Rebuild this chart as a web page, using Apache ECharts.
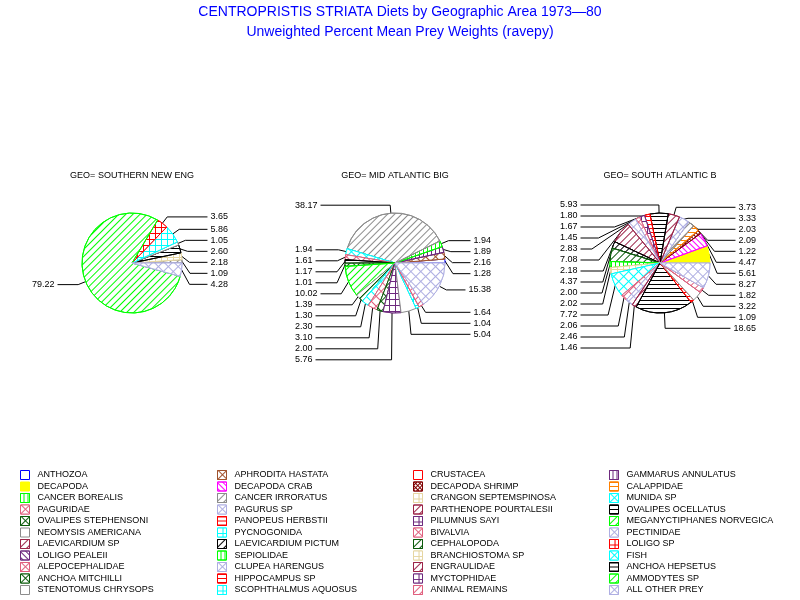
<!DOCTYPE html>
<html><head><meta charset="utf-8">
<script src="https://cdn.jsdelivr.net/npm/echarts@6/dist/echarts.min.js"></script>
<style>html,body{margin:0;padding:0;background:#fff}#c{width:800px;height:600px}</style>
</head><body><div id="c"></div>
<script>
// ---- data ----
const categories = [
 'ANTHOZOA','APHRODITA HASTATA','CRUSTACEA','GAMMARUS ANNULATUS',
 'DECAPODA','DECAPODA CRAB','DECAPODA SHRIMP','CALAPPIDAE',
 'CANCER BOREALIS','CANCER IRRORATUS','CRANGON SEPTEMSPINOSA','MUNIDA SP',
 'PAGURIDAE','PAGURUS SP','PARTHENOPE POURTALESII','OVALIPES OCELLATUS',
 'OVALIPES STEPHENSONI','PANOPEUS HERBSTII','PILUMNUS SAYI','MEGANYCTIPHANES NORVEGICA',
 'NEOMYSIS AMERICANA','PYCNOGONIDA','BIVALVIA','PECTINIDAE',
 'LAEVICARDIUM SP','LAEVICARDIUM PICTUM','CEPHALOPODA','LOLIGO SP',
 'LOLIGO PEALEII','SEPIOLIDAE','BRANCHIOSTOMA SP','FISH',
 'ALEPOCEPHALIDAE','CLUPEA HARENGUS','ENGRAULIDAE','ANCHOA HEPSETUS',
 'ANCHOA MITCHILLI','HIPPOCAMPUS SP','MYCTOPHIDAE','AMMODYTES SP',
 'STENOTOMUS CHRYSOPS','SCOPHTHALMUS AQUOSUS','ANIMAL REMAINS','ALL OTHER PREY'
];
const pieTitles = ['GEO= SOUTHERN NEW ENG','GEO= MID ATLANTIC BIG','GEO= SOUTH ATLANTIC B'];

const sneNames = ['CANCER IRRORATUS','CRANGON SEPTEMSPINOSA','OVALIPES OCELLATUS','NEOMYSIS AMERICANA',
 'PYCNOGONIDA','LOLIGO SP','AMMODYTES SP','ALL OTHER PREY'];
const sneValues = [1.09, 2.18, 2.60, 1.05, 5.86, 3.65, 79.22, 4.28];

const mabNames = ['ANTHOZOA','APHRODITA HASTATA','GAMMARUS ANNULATUS','CANCER BOREALIS','CANCER IRRORATUS',
 'MUNIDA SP','PAGURIDAE','OVALIPES OCELLATUS','OVALIPES STEPHENSONI','MEGANYCTIPHANES NORVEGICA',
 'NEOMYSIS AMERICANA','CEPHALOPODA','FISH','ALEPOCEPHALIDAE','ANCHOA MITCHILLI','MYCTOPHIDAE',
 'STENOTOMUS CHRYSOPS','SCOPHTHALMUS AQUOSUS','ANIMAL REMAINS','ALL OTHER PREY'];
const mabValues = [1.28, 2.16, 1.89, 1.94, 38.17, 1.94, 1.61, 1.17, 1.01, 10.02,
 1.39, 1.30, 2.30, 3.10, 2.00, 5.76, 5.04, 1.04, 1.64, 15.38];

const sabNames = ['DECAPODA','DECAPODA CRAB','DECAPODA SHRIMP','CALAPPIDAE','CANCER IRRORATUS',
 'PAGURUS SP','PARTHENOPE POURTALESII','OVALIPES OCELLATUS','PANOPEUS HERBSTII','PILUMNUS SAYI',
 'BIVALVIA','PECTINIDAE','LAEVICARDIUM SP','LAEVICARDIUM PICTUM','CEPHALOPODA','SEPIOLIDAE',
 'BRANCHIOSTOMA SP','FISH','ALEPOCEPHALIDAE','CLUPEA HARENGUS','ENGRAULIDAE','ANCHOA HEPSETUS',
 'HIPPOCAMPUS SP','STENOTOMUS CHRYSOPS','ANIMAL REMAINS','ALL OTHER PREY'];
const sabValues = [5.61, 4.47, 1.22, 2.09, 2.03, 3.33, 3.73, 5.93, 1.80, 1.67,
 1.45, 2.83, 7.08, 2.18, 4.37, 2.00, 2.02, 7.72, 2.06, 2.46, 1.46, 18.65,
 1.09, 3.22, 1.82, 8.27];

// ---- styles ----
const C = {blue:'#0000ff', brown:'#a0522d', red:'#ff0000', purple:'#6e2a7e', yellow:'#ffff00',
 magenta:'#ff00ff', maroon:'#800000', orange:'#ff8000', green:'#00ff00', gray:'#8c8c8c',
 tan:'#e6d6a2', cyan:'#00ffff', pink:'#e0607e', lav:'#aeaee2', crimson:'#9c2448',
 black:'#000000', dkgreen:'#0a5a0a'};
const catStyle = [
 ['blue','empty'],['brown','xgrid'],['red','empty'],['purple','vline'],
 ['yellow','solid'],['magenta','diag2'],['maroon','xdense'],['orange','hline'],
 ['green','vline'],['gray','diag'],['tan','grid'],['cyan','xgrid'],
 ['pink','xgrid'],['lav','xgrid'],['crimson','diag'],['black','hline'],
 ['dkgreen','xgrid'],['red','hline'],['purple','grid'],['green','diag'],
 ['gray','empty'],['cyan','grid'],['pink','xgrid'],['lav','xgrid'],
 ['crimson','diag'],['black','diag'],['dkgreen','diag'],['red','grid'],
 ['purple','diag2'],['green','vline'],['tan','grid'],['cyan','xgrid'],
 ['pink','xgrid'],['lav','xgrid'],['crimson','diag'],['black','hline'],
 ['dkgreen','xgrid'],['red','hline'],['purple','grid'],['green','diag'],
 ['gray','empty'],['cyan','grid'],['pink','diag'],['lav','xgrid']
];
function decalFor(kind, col) {
  switch (kind) {
    case 'diag': return {symbol:'rect', symbolSize:1, color:col, dashArrayX:[1,0], dashArrayY:[1,4], rotation:-Math.PI/4};
    case 'diag2': return {symbol:'rect', symbolSize:1, color:col, dashArrayX:[1,0], dashArrayY:[1,3], rotation:Math.PI/4};
    case 'hline': return {symbol:'rect', symbolSize:1, color:col, dashArrayX:[1,0], dashArrayY:[1,3], rotation:0};
    case 'vline': return {symbol:'rect', symbolSize:1, color:col, dashArrayX:[1,0], dashArrayY:[1,3], rotation:Math.PI/2};
    case 'grid': return {symbol:'rect', symbolSize:1, color:'#ffffff', backgroundColor:col, dashArrayX:[5,1], dashArrayY:[5,1], rotation:0};
    case 'xgrid': return {symbol:'rect', symbolSize:1, color:'#ffffff', backgroundColor:col, dashArrayX:[6,1], dashArrayY:[6,1], rotation:Math.PI/4};
    case 'xdense': return {symbol:'rect', symbolSize:1, color:'#ffffff', backgroundColor:col, dashArrayX:[2,1], dashArrayY:[2,1], rotation:Math.PI/4};
    default: return null;
  }
}
const FONT = 'Liberation Sans, Arial, sans-serif';

function pieData(names, values) {
  return categories.map((c, i) => {
    const k = names.indexOf(c);
    const v = k >= 0 ? values[k] : 0;
    const col = C[catStyle[i][0]];
    const kind = catStyle[i][1];
    const d = decalFor(kind, col);
    const item = {
      name: c, value: v,
      itemStyle: {color: kind === 'solid' ? col : '#ffffff', borderColor: col, borderWidth: v > 0 ? 1 : 0}
    };
    if (d) item.itemStyle.decal = d;
    if (v <= 0) { item.label = {show:false}; item.labelLine = {show:false}; }
    return item;
  });
}

const pieCenters = [[132, 263], [395, 263], [660, 263]];
const pieSets = [[sneNames, sneValues], [mabNames, mabValues], [sabNames, sabValues]];
const boxLeft = 100, boxRight = 96;

const series = pieSets.map((s, j) => ({
  type: 'pie', left: pieCenters[j][0] - boxLeft, top: 0, width: boxLeft + boxRight, height: 600,
  center: [boxLeft, pieCenters[j][1]], radius: 50, startAngle: 0, clockwise: false,
  silent: true, animation: false, avoidLabelOverlap: true, minShowLabelAngle: 0.01,
  emphasis: {disabled: true},
  label: {show: true, position: 'outside', alignTo: 'edge', edgeDistance: 0, distanceToLabelLine: 3,
    color: '#000', fontSize: 9, lineHeight: 9, fontFamily: FONT,
    formatter: p => Number(p.value).toFixed(2)},
  labelLine: {show: true, length: 8, length2: 10, smooth: false, lineStyle: {color: '#000', width: 1}},
  data: pieData(s[0], s[1])
}));

const legendX = [20, 217, 413, 609];
const legends = legendX.map((x, k) => ({
  orient: 'vertical', left: x, top: 470, height: 200, padding: 0, itemGap: 1.5,
  itemWidth: 9, itemHeight: 9, icon: 'rect', selectedMode: false,
  data: categories.filter((c, i) => i % 4 === k),
  textStyle: {fontSize: 9, lineHeight: 9, color: '#000', fontFamily: FONT, padding: [0, 0, 0, 3]},
  itemStyle: {borderWidth: 1, borderColor: 'inherit'}
}));

const chart = echarts.init(document.getElementById('c'), null, {renderer: 'canvas'});
chart.setOption({
  backgroundColor: '#ffffff',
  animation: false,
  title: [
    {text: 'CENTROPRISTIS STRIATA Diets by Geographic Area 1973\u201480', left: 'center', top: 5, padding: 0,
     textStyle: {color: '#0000ff', fontSize: 14, fontWeight: 'normal', fontFamily: FONT}},
    {text: 'Unweighted Percent Mean Prey Weights (ravepy)', left: 'center', top: 25, padding: 0,
     textStyle: {color: '#0000ff', fontSize: 14, fontWeight: 'normal', fontFamily: FONT}}
  ],
  graphic: pieTitles.map((t, j) => ({
    type: 'text', x: pieCenters[j][0], y: 171,
    style: {text: t, align: 'center', verticalAlign: 'top', fill: '#000', font: '9px ' + FONT}
  })),
  legend: legends,
  series: series
});
</script></body></html>
